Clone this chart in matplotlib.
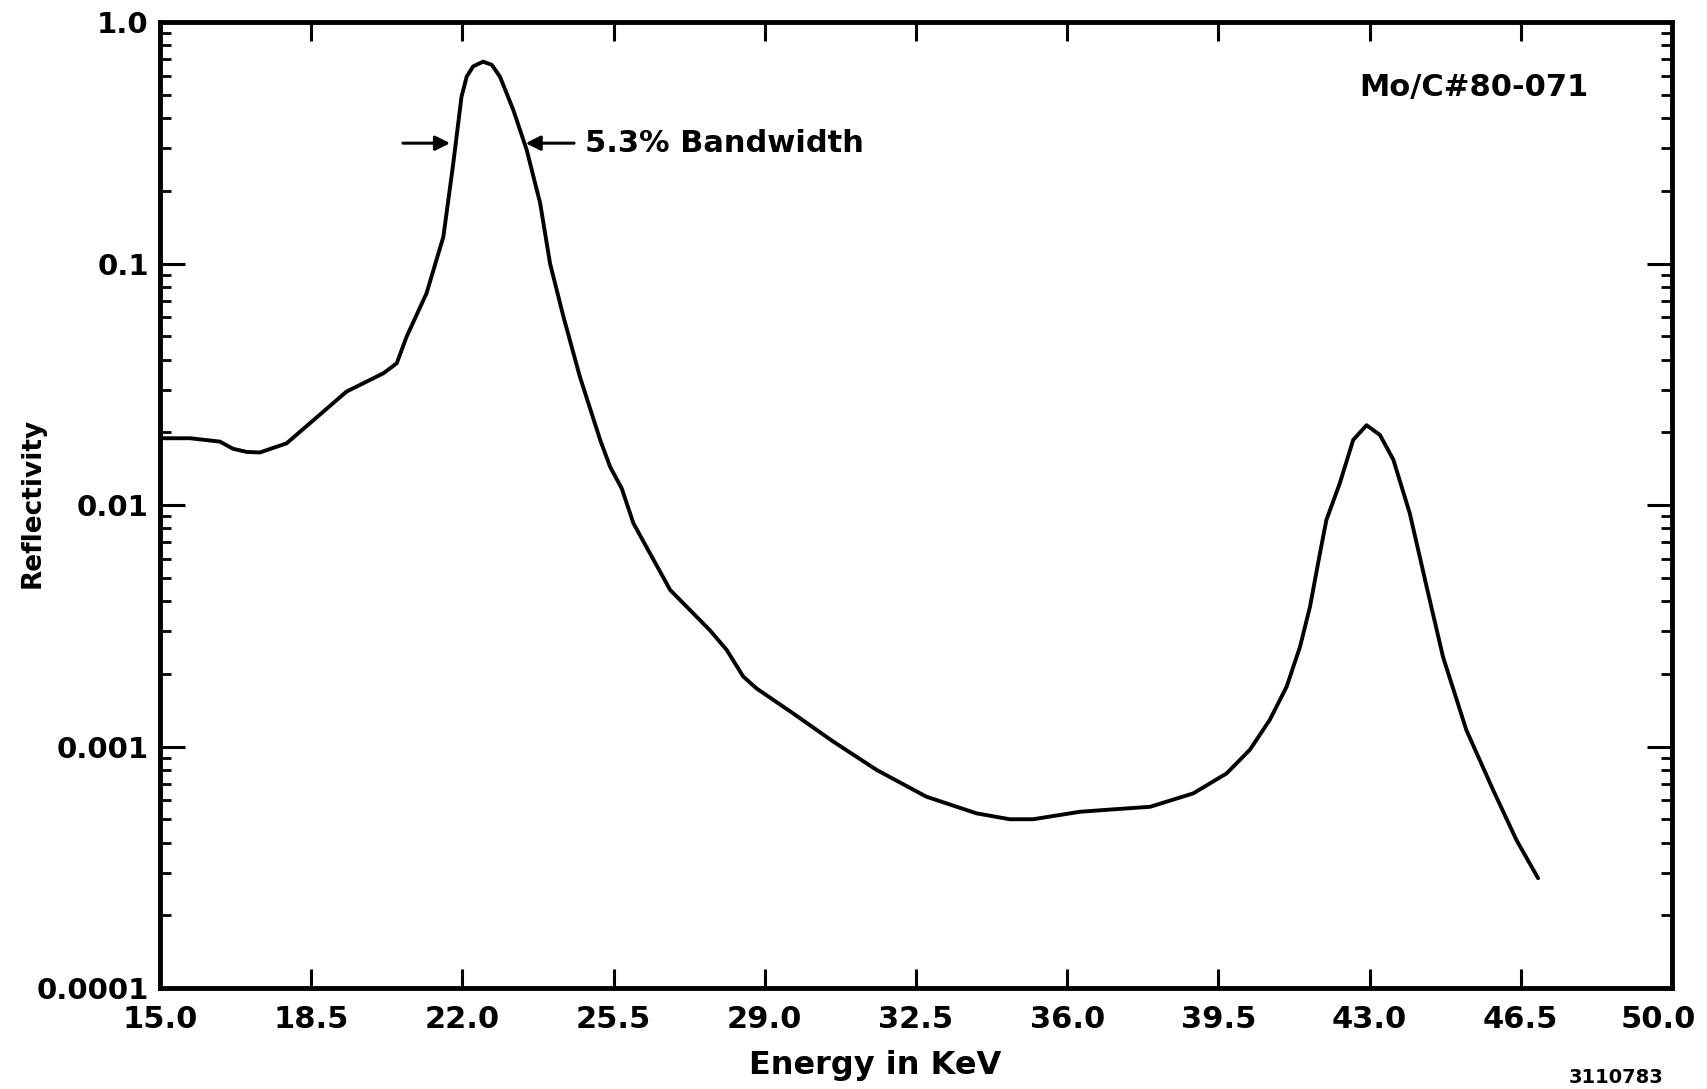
import matplotlib

matplotlib.use("Agg")
import matplotlib.pyplot as plt
import numpy as np
from matplotlib.ticker import LogLocator, NullFormatter
from matplotlib.transforms import ScaledTranslation

# Reflectivity curve (energy in keV).
energy = [15.0, 15.7, 16.39, 16.69, 17.0, 17.31, 17.93, 18.47, 19.32, 20.17,
          20.48, 20.71, 21.17, 21.56, 21.79, 21.98, 22.1, 22.25, 22.48, 22.68,
          22.87, 23.18, 23.49, 23.8, 24.03, 24.34, 24.72, 25.19, 25.42, 25.69,
          25.96, 26.81, 27.73, 28.12, 28.5, 28.81, 29.66, 30.58, 31.59, 32.74,
          33.9, 34.67, 35.21, 36.3, 37.1, 37.92, 38.92, 39.69, 40.23, 40.69,
          41.08, 41.39, 41.62, 41.85, 42.0, 42.31, 42.62, 42.93, 43.24, 43.55,
          43.93, 44.32, 44.7, 45.24, 45.86, 46.4, 46.9]
reflectivity = [0.0189, 0.0189, 0.0183, 0.0171, 0.0166, 0.0165, 0.018, 0.0218, 0.0295, 0.0351,
                0.0386, 0.0498, 0.0752, 0.129, 0.26, 0.49, 0.594, 0.655, 0.685, 0.665,
                0.594, 0.432, 0.295, 0.178, 0.100, 0.0602, 0.034, 0.0186, 0.0144, 0.0117,
                0.0084, 0.00445, 0.00303, 0.00251, 0.00195, 0.00174, 0.00137, 0.00105, 0.0008, 0.00062,
                0.000529, 0.0005, 0.0005, 0.000537, 0.00055, 0.000563, 0.00064, 0.000774, 0.00097, 0.00129,
                0.00177, 0.00259, 0.00379, 0.0063, 0.00867, 0.0123, 0.0186, 0.0214, 0.0195, 0.0154,
                0.00924, 0.00459, 0.00235, 0.00117, 0.00066, 0.00041, 0.000285]

x_ticks = [15.0, 18.5, 22.0, 25.5, 29.0, 32.5, 36.0, 39.5, 43.0, 46.5, 50.0]
x_tick_labels = ["15.0", "18.5", "22.0", "25.5", "29.0", "32.5", "36.0",
                 "39.5", "43.0", "46.5", "50.0"]
y_ticks = [1e-4, 1e-3, 1e-2, 1e-1, 1.0]
y_tick_labels = ["0.0001", "0.001", "0.01", "0.1", "1.0"]

plt.rcParams["font.family"] = ["DejaVu Sans"]
plt.rcParams["font.weight"] = "bold"

fig = plt.figure(figsize=(17.07, 10.89), dpi=100)
ax = fig.add_axes([0.0937, 0.0927, 0.8858, 0.8871])

ax.plot(energy, reflectivity, color="black", linewidth=2.8,
        solid_capstyle="round", solid_joinstyle="round")

ax.set_yscale("log")
ax.set_xlim(15.0, 50.0)
ax.set_ylim(1e-4, 1.0)

ax.set_xticks(x_ticks)
ax.set_xticklabels(x_tick_labels)
ax.set_yticks(y_ticks)
ax.set_yticklabels(y_tick_labels)
ax.yaxis.set_minor_locator(LogLocator(base=10, subs=np.arange(2, 10)))
ax.yaxis.set_minor_formatter(NullFormatter())
ax.xaxis.set_minor_locator(plt.NullLocator())

for side in ax.spines.values():
    side.set_linewidth(3.5)

ax.tick_params(axis="x", which="major", direction="in", top=True, length=14,
               width=2.2, labelsize=22, pad=12)
ax.tick_params(axis="y", which="major", direction="in", right=True, length=18,
               width=2.2, labelsize=21, pad=8)
ax.tick_params(axis="y", which="minor", direction="in", right=True, length=8,
               width=2.0)

# keep the last x label inside the figure, as on the scan
last = ax.get_xticklabels()[-1]
last.set_transform(last.get_transform() + ScaledTranslation(-0.14, 0, fig.dpi_scale_trans))

# Bandwidth arrows and labels.
arrow_y = 0.315
ax.annotate("", xy=(21.78, arrow_y), xytext=(20.56, arrow_y),
            arrowprops=dict(arrowstyle="-|>", color="black", lw=2.2,
                            mutation_scale=22))
ax.annotate("", xy=(23.4, arrow_y), xytext=(24.65, arrow_y),
            arrowprops=dict(arrowstyle="-|>", color="black", lw=2.2,
                            mutation_scale=22))
ax.text(24.85, arrow_y, "5.3% Bandwidth", fontsize=22, fontweight="bold",
        va="center", ha="left")
ax.text(42.75, 0.533, "Mo/C#80-071", fontsize=22, fontweight="bold",
        va="center", ha="left")

fig.text(0.5126, 0.022, "Energy in KeV", fontsize=23, fontweight="bold",
         ha="center", va="center")
fig.text(0.0193, 0.538, "Reflectivity", fontsize=19, fontweight="bold",
         rotation=90, ha="center", va="center")
fig.text(0.947, 0.002, "3110783", fontsize=14, fontweight="bold",
         ha="center", va="bottom")

fig.savefig("out.png", dpi=100)
